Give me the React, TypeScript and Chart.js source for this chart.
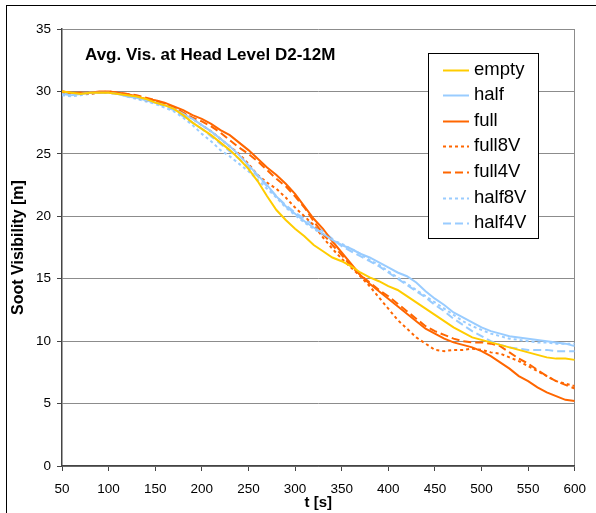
import React, { useEffect, useRef } from 'react';
import { Chart, registerables } from 'chart.js';

Chart.register(...registerables);

const FONT = '"Liberation Sans", Arial, Helvetica, sans-serif';

const times = [
  50, 60, 70, 80, 90, 100, 110, 120, 130, 140,
  150, 160, 170, 180, 190, 200, 210, 220, 230, 240,
  250, 260, 270, 280, 290, 300, 310, 320, 330, 340,
  350, 360, 370, 380, 390, 400, 410, 420, 430, 440,
  450, 460, 470, 480, 490, 500, 510, 520, 530, 540,
  550, 560, 570, 580, 590, 600,
];

const empty = [
  30.0, 29.9, 29.8, 29.9, 29.9, 29.9, 29.8, 29.7, 29.6, 29.4,
  29.1, 28.9, 28.6, 28.1, 27.5, 27.0, 26.5, 25.9, 25.3, 24.6,
  23.8, 22.8, 21.6, 20.5, 19.7, 19.0, 18.4, 17.7, 17.2, 16.7,
  16.4, 16.0, 15.5, 15.1, 14.8, 14.4, 14.1, 13.6, 13.1, 12.6,
  12.1, 11.6, 11.1, 10.7, 10.3, 10.1, 9.9, 9.7, 9.5, 9.3,
  9.1, 8.9, 8.7, 8.6, 8.6, 8.5,
];

const half = [
  29.8, 29.7, 29.8, 29.9, 29.9, 29.9, 29.8, 29.6, 29.5, 29.3,
  29.1, 28.9, 28.6, 28.2, 27.8, 27.3, 26.8, 26.2, 25.6, 24.9,
  24.1, 23.3, 22.5, 21.6, 20.8, 20.2, 19.6, 19.1, 18.6, 18.1,
  17.7, 17.4, 17.0, 16.7, 16.3, 15.9, 15.5, 15.2, 14.7, 14.0,
  13.4, 12.9, 12.3, 11.9, 11.5, 11.1, 10.8, 10.6, 10.4, 10.3,
  10.2, 10.1, 10.0, 9.9, 9.8, 9.6,
];

const full = [
  30.0, 29.9, 29.9, 29.9, 30.0, 30.0, 29.9, 29.8, 29.6, 29.4,
  29.3, 29.1, 28.8, 28.5, 28.1, 27.8, 27.4, 26.9, 26.5, 25.9,
  25.3, 24.6, 23.9, 23.3, 22.6, 21.8, 20.8, 19.8, 19.0, 18.0,
  17.1, 16.2, 15.3, 14.6, 14.0, 13.4, 12.8, 12.2, 11.6, 11.0,
  10.6, 10.2, 9.9, 9.7, 9.5, 9.2, 8.8, 8.3, 7.8, 7.2,
  6.8, 6.3, 5.9, 5.6, 5.3, 5.2,
];

const full8V = [
  29.9, 29.8, 29.9, 29.8, 29.9, 29.9, 29.8, 29.7, 29.5, 29.3,
  29.2, 29.0, 28.7, 28.3, 27.8, 27.3, 26.8, 26.2, 25.6, 25.0,
  24.2, 23.3, 22.7, 22.2, 21.5, 20.7, 20.0, 19.3, 18.3, 17.4,
  16.6, 15.9, 15.2, 14.4, 13.5, 12.6, 11.7, 11.0, 10.3, 9.8,
  9.3, 9.2, 9.3, 9.3, 9.4, 9.3, 9.1, 9.0, 8.7, 8.4,
  8.0, 7.6, 7.2, 6.8, 6.6, 6.4,
];

const full4V = [
  30.0, 29.9, 29.8, 29.9, 29.9, 30.0, 29.9, 29.8, 29.7, 29.5,
  29.3, 29.0, 28.7, 28.3, 27.9, 27.6, 27.2, 26.7, 26.1, 25.5,
  25.0, 24.4, 23.7, 23.0, 22.4, 21.6, 20.7, 19.6, 18.6, 17.7,
  16.9, 16.0, 15.3, 14.7, 14.1, 13.6, 13.0, 12.4, 11.8, 11.2,
  10.8, 10.5, 10.2, 10.0, 9.9, 9.9, 9.8, 9.6, 9.1, 8.6,
  8.2, 7.7, 7.2, 6.8, 6.5, 6.2,
];

const half8V = [
  29.7, 29.6, 29.7, 29.8, 29.9, 29.9, 29.8, 29.6, 29.4, 29.2,
  29.0, 28.7, 28.4, 27.9, 27.3, 26.6, 26.0, 25.3, 24.8, 24.2,
  23.6, 22.9, 22.2, 21.5, 20.7, 20.1, 19.5, 19.0, 18.5, 18.1,
  17.8, 17.4, 17.0, 16.5, 16.1, 15.6, 15.1, 14.6, 14.1, 13.6,
  13.1, 12.6, 12.1, 11.6, 11.2, 10.9, 10.6, 10.4, 10.2, 10.1,
  10.0, 9.9, 9.9, 9.8, 9.8, 9.8,
];

const half4V = [
  29.8, 29.8, 29.8, 29.9, 29.9, 29.9, 29.8, 29.7, 29.5, 29.3,
  29.1, 28.8, 28.5, 28.0, 27.5, 27.0, 26.4, 25.8, 25.2, 24.6,
  23.9, 23.2, 22.4, 21.6, 20.9, 20.3, 19.8, 19.3, 18.8, 18.2,
  17.6, 17.2, 16.8, 16.4, 16.0, 15.5, 15.0, 14.5, 14.0, 13.5,
  12.9, 12.4, 11.8, 11.3, 10.8, 10.4, 10.0, 9.7, 9.5, 9.4,
  9.3, 9.3, 9.3, 9.2, 9.2, 9.2,
];

const seriesLabels = ['empty', 'half', 'full', 'full8V', 'full4V', 'half8V', 'half4V'];
const seriesValues = [empty, half, full, full8V, full4V, half8V, half4V];

const YELLOW = '#FFCC00';
const BLUE = '#99CCFF';
const ORANGE = '#FF6600';
const DOT = [3, 3];
const DASH = [8, 4];
const seriesColors = [YELLOW, BLUE, ORANGE, ORANGE, ORANGE, BLUE, BLUE];
const seriesDash: number[][] = [[], [], [], DOT, DASH, DOT, DASH];

const chartTitle = 'Avg. Vis. at Head Level D2-12M';
const xTitle = 't [s]';
const yTitle = 'Soot Visibility [m]';

const W = 596;
const H = 513;

const overlayPlugin = {
  id: 'overlay',
  afterDraw(chart: any) {
    const ctx = chart.ctx as CanvasRenderingContext2D;
    const area = chart.chartArea;
    ctx.save();
    // outer frame
    ctx.strokeStyle = '#000';
    ctx.lineWidth = 1;
    ctx.strokeRect(6.5, 5.5, 900, 900);

    // chart title inside plot
    ctx.fillStyle = '#000';
    ctx.font = `bold 17px ${FONT}`;
    ctx.textAlign = 'left';
    ctx.textBaseline = 'middle';
    ctx.fillText(chartTitle, area.left + 23, area.top + 26);

    // legend box
    const bx = 428.5, by = 53.5, bw = 110, bh = 185;
    ctx.fillStyle = '#fff';
    ctx.fillRect(bx, by, bw, bh);
    ctx.strokeStyle = '#000';
    ctx.lineWidth = 1;
    ctx.strokeRect(bx, by, bw, bh);
    ctx.font = `18.5px ${FONT}`;
    chart.data.datasets.forEach((ds: any, i: number) => {
      const y = 69.5 + i * 25.6;
      ctx.strokeStyle = ds.borderColor;
      ctx.lineWidth = 2;
      ctx.setLineDash(ds.borderDash || []);
      ctx.beginPath();
      ctx.moveTo(443, Math.round(y) + 0.5);
      ctx.lineTo(469, Math.round(y) + 0.5);
      ctx.stroke();
      ctx.setLineDash([]);
      ctx.fillStyle = '#000';
      ctx.fillText(ds.label, 474, y);
    });
    ctx.restore();
  },
};

export default function App() {
  const ref = useRef<HTMLCanvasElement>(null);
  useEffect(() => {
    document.body.style.margin = '0';
    if (!ref.current) return;
    const datasets = seriesLabels.map((label, k) => ({
      label,
      data: times.map((t, i) => ({ x: t, y: seriesValues[k][i] })),
      borderColor: seriesColors[k],
      backgroundColor: seriesColors[k],
      borderWidth: 2,
      borderDash: seriesDash[k],
      pointRadius: 0,
      fill: false,
      tension: 0,
    }));
    const tickFont = { family: FONT, size: 13.5 };
    const chart = new Chart(ref.current, {
      type: 'line',
      data: { datasets },
      options: {
        responsive: false,
        animation: false,
        layout: { padding: { left: 0, right: 21, top: 29, bottom: 0 } },
        plugins: { legend: { display: false }, tooltip: { enabled: false } },
        scales: {
          x: {
            type: 'linear',
            min: 50,
            max: 600,
            ticks: { stepSize: 50, font: tickFont, color: '#000', padding: 10, maxRotation: 0, autoSkip: false },
            grid: {
              color: (c: any) => (c.tick && c.tick.value === 600 ? '#8c8c8c' : 'rgba(0,0,0,0)'),
              tickColor: '#444',
              tickLength: 5,
              lineWidth: 1,
            },
            border: { color: '#444', width: 1.5 },
            title: { display: true, text: xTitle, font: { family: FONT, size: 15, weight: 'bold' }, color: '#000', padding: { top: 0, bottom: 1 } },
            afterFit: (s: any) => { s.height = 47; },
          },
          y: {
            type: 'linear',
            min: 0,
            max: 35,
            ticks: { stepSize: 5, font: tickFont, color: '#000', padding: 6 },
            grid: { color: '#8c8c8c', tickColor: '#444', tickLength: 5, lineWidth: 1 },
            border: { color: '#444', width: 1.5 },
            title: { display: true, text: yTitle, font: { family: FONT, size: 16, weight: 'bold' }, color: '#000', padding: { top: 9, bottom: 0 } },
            afterFit: (s: any) => { s.width = 62; },
          },
        },
      },
      plugins: [overlayPlugin],
    });
    return () => chart.destroy();
  }, []);
  return (
    <div style={{ position: 'relative', width: W, height: H, overflow: 'hidden', background: '#fff' }}>
      <canvas ref={ref} width={W} height={H} style={{ display: 'block', width: W, height: H }} />
    </div>
  );
}
